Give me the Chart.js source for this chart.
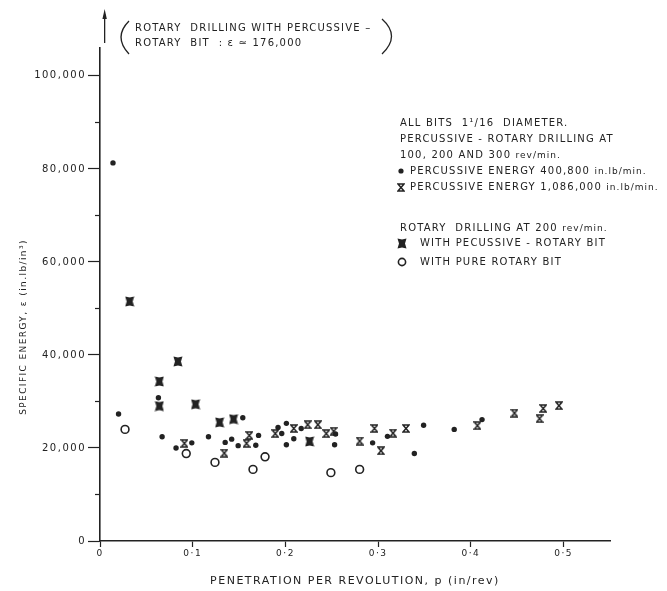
<!DOCTYPE html>
<html>
<head>
<meta charset="utf-8">
<script src="https://cdn.jsdelivr.net/npm/chart.js@4"></script>
<style>
  body { margin: 0; background: #fff; }
  #wrap { width: 667px; height: 591px; position: relative; }
</style>
</head>
<body>
<div id="wrap"><canvas id="energyChart"></canvas></div>
<script>
// p = penetration per revolution (in/rev), e = specific energy (in.lb/in^3)
const percussive400 = [
    [0.014, 81300], [0.020, 27300], [0.063, 30800], [0.067, 22400], [0.082, 20000],
    [0.099, 21100], [0.117, 22400], [0.135, 21200], [0.142, 21900], [0.149, 20500],
    [0.154, 26500], [0.168, 20600], [0.171, 22700], [0.192, 24400], [0.196, 23100],
    [0.201, 25300], [0.201, 20700], [0.209, 22000], [0.217, 24200], [0.253, 20700],
    [0.254, 23000], [0.294, 21100], [0.310, 22500], [0.339, 18800], [0.349, 24900],
    [0.382, 24000], [0.412, 26100]
];
const percussive1086 = [
    [0.091, 21000], [0.134, 18900], [0.158, 21000], [0.161, 22700], [0.189, 23100],
    [0.209, 24200], [0.224, 25000], [0.235, 25000], [0.244, 23100], [0.252, 23600],
    [0.280, 21500], [0.296, 24200], [0.303, 19400], [0.316, 23200], [0.330, 24200],
    [0.407, 24800], [0.447, 27500], [0.474, 26300], [0.478, 28500], [0.495, 29100]
];
const rotaryPercBit = [
    [0.032, 51500], [0.064, 34300], [0.064, 29000], [0.084, 38600],
    [0.103, 29400], [0.129, 25500], [0.144, 26200], [0.226, 21400]
];
const rotaryPureBit = [
    [0.027, 24000], [0.093, 18800], [0.124, 16900], [0.165, 15400],
    [0.178, 18100], [0.249, 14700], [0.280, 15400]
];
// rotary drilling with percussive-rotary bit, off the top of the scale
const offScale = { p: 0.005, e: 176000 };

const xTicks = [0, 0.1, 0.2, 0.3, 0.4, 0.5];
const yTicks = [0, 20000, 40000, 60000, 80000, 100000];
const yMinorTicks = [10000, 30000, 50000, 70000, 90000];
const xMax = 0.55, yMax = 106000;

const ink = '#222';
const FONT = '"DejaVu Sans", sans-serif';

function marker(w, h, paint) {
    const c = document.createElement('canvas');
    c.width = w;
    c.height = h;
    const g = c.getContext('2d');
    g.strokeStyle = ink;
    g.fillStyle = ink;
    paint(g, w, h);
    return c;
}

// open hourglass "x"
const crossMark = marker(8, 9, (g, w, h) => {
    g.lineWidth = 1.5;
    g.beginPath();
    g.moveTo(1, 1);
    g.lineTo(w - 1, 1);
    g.lineTo(1, h - 1);
    g.lineTo(w - 1, h - 1);
    g.closePath();
    g.stroke();
});

// filled block with pinched sides
const blockMark = marker(10, 11, (g, w, h) => {
    g.beginPath();
    g.moveTo(0.5, 0.5);
    g.lineTo(w / 2, 1.5);
    g.lineTo(w - 0.5, 0.5);
    g.lineTo(w - 2, h / 2);
    g.lineTo(w - 0.5, h - 0.5);
    g.lineTo(w / 2, h - 1.5);
    g.lineTo(0.5, h - 0.5);
    g.lineTo(2, h / 2);
    g.closePath();
    g.fill();
});

const toPoints = arr => arr.map(([p, e]) => ({ x: p, y: e }));
const fixTicks = values => s => { s.ticks = values.map(v => ({ value: v })); };

function spaced(ctx, size, spacing) {
    ctx.font = size + 'px ' + FONT;
    ctx.letterSpacing = spacing + 'px';
}

// capitals at the key size, units in smaller lowercase
function keyLine(ctx, caps, units, x, y) {
    spaced(ctx, 10, 1.2);
    ctx.fillText(caps, x, y);
    if (!units) return;
    const w = ctx.measureText(caps).width;
    spaced(ctx, 9, 1);
    ctx.fillText(units, x + w, y + 0.5);
}

const figureNotes = {
    id: 'figureNotes',
    beforeDraw(chart) {
        chart.ctx.letterSpacing = '1.5px';
    },
    afterDraw(chart) {
        const ctx = chart.ctx;
        const xs = chart.scales.x, ys = chart.scales.y;
        const area = chart.chartArea;
        ctx.save();
        ctx.strokeStyle = ink;
        ctx.fillStyle = ink;

        // minor ticks on the energy axis
        ctx.lineWidth = 1.2;
        yMinorTicks.forEach(v => {
            const py = Math.round(ys.getPixelForValue(v)) + 0.5;
            ctx.beginPath();
            ctx.moveTo(area.left - 5, py);
            ctx.lineTo(area.left, py);
            ctx.stroke();
        });

        // arrow for the off-scale point
        const ax = xs.getPixelForValue(offScale.p);
        ctx.lineWidth = 1.3;
        ctx.beginPath();
        ctx.moveTo(ax, area.top - 5);
        ctx.lineTo(ax, 14);
        ctx.stroke();
        ctx.beginPath();
        ctx.moveTo(ax - 2.2, 19);
        ctx.lineTo(ax + 2.2, 19);
        ctx.lineTo(ax, 9);
        ctx.closePath();
        ctx.fill();

        // bracketed note beside the arrow
        ctx.lineWidth = 1.3;
        ctx.beginPath();
        ctx.moveTo(129, 21);
        ctx.quadraticCurveTo(113, 37, 129, 54);
        ctx.stroke();
        ctx.beginPath();
        ctx.moveTo(382, 19);
        ctx.quadraticCurveTo(401, 36, 382, 54);
        ctx.stroke();
        ctx.textBaseline = 'middle';
        ctx.textAlign = 'left';
        spaced(ctx, 10, 1.2);
        ctx.fillText('ROTARY  DRILLING WITH PERCUSSIVE –', 135, 28);
        ctx.fillText('ROTARY  BIT  : ε ≃ 176,000', 135, 43);

        // key
        keyLine(ctx, 'ALL BITS  1¹/16  DIAMETER.', '', 400, 123);
        keyLine(ctx, 'PERCUSSIVE - ROTARY DRILLING AT', '', 400, 139);
        keyLine(ctx, '100, 200 AND 300 ', 'rev/min.', 400, 155);
        keyLine(ctx, 'PERCUSSIVE ENERGY 400,800 ', 'in.lb/min.', 410, 171);
        keyLine(ctx, 'PERCUSSIVE ENERGY 1,086,000 ', 'in.lb/min.', 410, 187);
        keyLine(ctx, 'ROTARY  DRILLING AT 200 ', 'rev/min.', 400, 228);
        keyLine(ctx, 'WITH PECUSSIVE - ROTARY BIT', '', 420, 243);
        keyLine(ctx, 'WITH PURE ROTARY BIT', '', 420, 262);

        ctx.beginPath();
        ctx.arc(401, 171, 2.6, 0, Math.PI * 2);
        ctx.fill();
        ctx.drawImage(crossMark, 397, 183);
        ctx.drawImage(blockMark, 397, 238);
        ctx.lineWidth = 1.6;
        ctx.beginPath();
        ctx.arc(402, 262, 3.6, 0, Math.PI * 2);
        ctx.stroke();

        // energy axis title
        ctx.translate(24, 327);
        ctx.rotate(-Math.PI / 2);
        ctx.textAlign = 'center';
        spaced(ctx, 9, 1.4);
        ctx.fillText('SPECIFIC ENERGY, ε (in.lb/in³)', 0, 0);
        ctx.restore();
    }
};

const ctx = document.getElementById('energyChart').getContext('2d');
const energyChart = new Chart(ctx, {
    type: 'scatter',
    data: {
        datasets: [
            {
                label: 'Percussive energy 400,800 in.lb/min',
                data: toPoints(percussive400),
                pointStyle: 'circle',
                pointRadius: 2.7,
                backgroundColor: ink,
                borderWidth: 0
            },
            {
                label: 'Percussive energy 1,086,000 in.lb/min',
                data: toPoints(percussive1086),
                pointStyle: crossMark
            },
            {
                label: 'With percussive-rotary bit',
                data: toPoints(rotaryPercBit),
                pointStyle: blockMark
            },
            {
                label: 'With pure rotary bit',
                data: toPoints(rotaryPureBit),
                pointStyle: 'circle',
                pointRadius: 3.9,
                borderWidth: 1.6,
                borderColor: ink,
                backgroundColor: 'rgba(255,255,255,0)'
            }
        ]
    },
    options: {
        animation: false,
        responsive: true,
        maintainAspectRatio: false,
        layout: { padding: { left: 0, top: 48, right: 57, bottom: 0 } },
        plugins: {
            legend: { display: false },
            tooltip: { enabled: false }
        },
        scales: {
            x: {
                type: 'linear',
                min: 0,
                max: xMax,
                afterBuildTicks: fixTicks(xTicks),
                afterFit: s => { s.height = 50; },
                border: { display: true, color: ink, width: 1.6 },
                grid: { drawOnChartArea: false, drawTicks: true, tickLength: 6, tickColor: ink, tickWidth: 1.2 },
                ticks: {
                    padding: 1,
                    maxRotation: 0,
                    autoSkip: false,
                    color: ink,
                    font: { family: FONT, size: 9 },
                    callback: v => v === 0 ? '0' : v.toFixed(1).replace('.', '·')
                },
                title: {
                    display: true,
                    text: 'PENETRATION PER REVOLUTION, p (in/rev)',
                    color: ink,
                    font: { family: FONT, size: 11 },
                    padding: { top: 0, bottom: 3 }
                }
            },
            y: {
                min: 0,
                max: yMax,
                afterBuildTicks: fixTicks(yTicks),
                afterFit: s => { s.width = 100; },
                border: { display: true, color: ink, width: 1.6 },
                grid: { drawOnChartArea: false, drawTicks: true, tickLength: 12, tickColor: ink, tickWidth: 1.2 },
                ticks: {
                    padding: 2,
                    autoSkip: false,
                    color: ink,
                    font: { family: FONT, size: 10 },
                    callback: v => v.toLocaleString('en-US')
                }
            }
        }
    },
    plugins: [figureNotes]
});
</script>
</body>
</html>
